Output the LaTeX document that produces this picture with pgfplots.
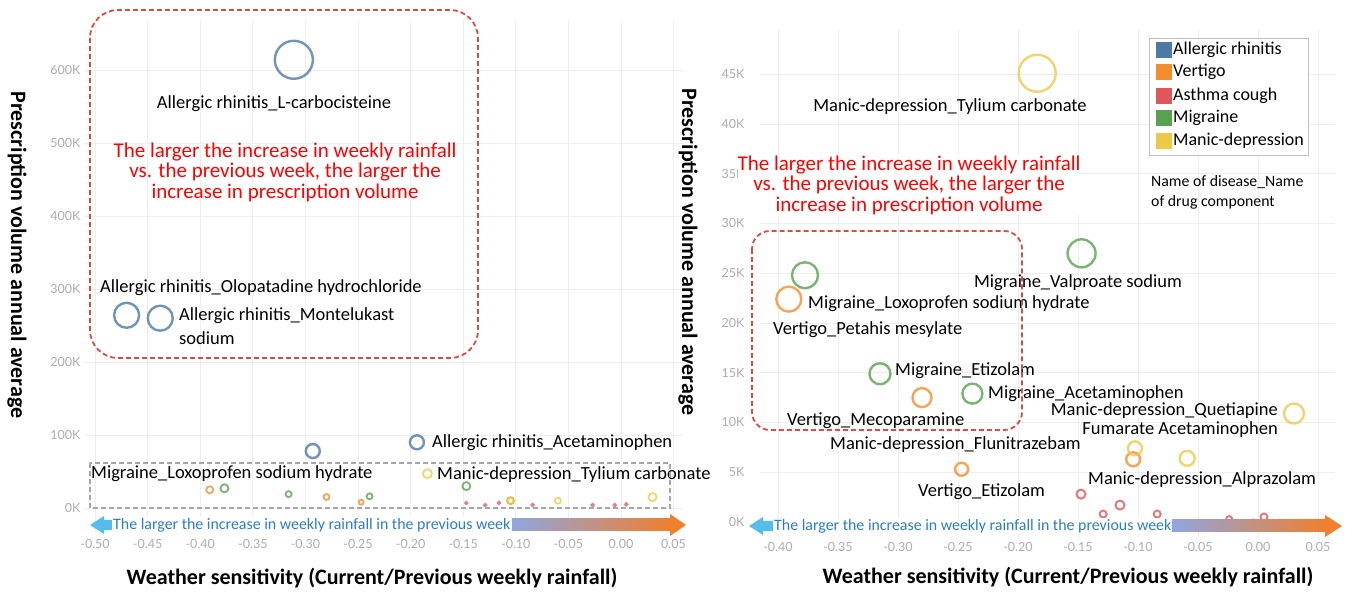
\documentclass[border=0pt]{standalone}
\usepackage{fontspec}
\setmainfont{Carlito}
\newfontfamily\tickfont{Lato}
\usepackage{pgfplots}
\usepackage{pgfplotstable}
\pgfplotsset{compat=1.18}

\definecolor{cAR}{HTML}{4E79A7}
\definecolor{cVE}{HTML}{F28E2B}
\definecolor{cAC}{HTML}{E15759}
\definecolor{cMI}{HTML}{59A14F}
\definecolor{cMD}{HTML}{EDC948}
\definecolor{annRed}{HTML}{FF0000}
\definecolor{boxRed}{HTML}{DE4A3E}
\definecolor{arrBlue}{HTML}{2A7CCF}
\definecolor{arrLight}{HTML}{55BDEB}
\definecolor{gradL}{HTML}{8FA6E0}
\definecolor{gradR}{HTML}{F07F2E}
\definecolor{gridc}{HTML}{EEEEEE}

% ---------------- left chart data ----------------
\pgfplotstableread{
x y r
-0.311 614000 19
-0.470 264000 12.5
-0.438 260000 12.5
-0.293 78000 7
-0.194 90000 7
}\LAR
\pgfplotstableread{
x y r
-0.391 25000 3.5
-0.280 15000 3
-0.247 8000 2.5
-0.105 10000 3.5
}\LVE
\pgfplotstableread{
x y r
-0.147 7000 1.5
-0.129 4000 1.5
-0.116 7000 1.5
-0.084 4000 1.5
-0.027 4000 1.5
-0.006 4000 1.5
0.005 5000 1.5
}\LAC
\pgfplotstableread{
x y r
-0.377 27000 4
-0.316 19000 3
-0.239 16000 3
-0.147 30000 4
}\LMI
\pgfplotstableread{
x y r
-0.184 47000 4.5
-0.105 10000 3
-0.060 10000 3
0.030 15000 4
}\LMD
% ---------------- right chart data ----------------
\pgfplotstableread{
x y r
-0.391 22400 12.5
-0.280 12500 9.5
-0.104 6300 7
-0.247 5300 6.5
}\RVE
\pgfplotstableread{
x y r
-0.1475 2800 4.5
-0.129 800 3.5
-0.115 1700 4.5
-0.084 800 3.5
-0.024 300 3
-0.004 0 2.5
0.005 500 3.5
}\RAC
\pgfplotstableread{
x y r
-0.3775 24800 13
-0.315 14900 10.5
-0.238 12900 10
-0.147 27000 14
}\RMI
\pgfplotstableread{
x y r
-0.184 45100 18.5
-0.1025 7400 7
-0.059 6400 7.5
0.030 10900 10
}\RMD

\pgfplotsset{
  base/.style={scale only axis, clip=false,
    axis line style={draw=none}, major tick length=0pt,
    grid=major, major grid style={draw=gridc, line width=0.9pt},
    scaled x ticks=false, scaled y ticks=false,
    ticklabel style={font=\tickfont\fontsize{12.5}{14}\selectfont, text=gray!65}},
  bub/.style 2 args={scatter, only marks, mark=o,
    scatter/use mapped color={draw=#1, draw opacity=0.8},
    visualization depends on={\thisrow{r}\as\perpointmarksize},
    scatter/@pre marker code/.append style={/tikz/mark size=\perpointmarksize},
    mark options={line width=#2}},
}

\tikzset{
  lbl/.style={font=\fontsize{18.5}{21}\selectfont, inner sep=0pt, text=black},
  leg/.style={font=\fontsize{18}{20}\selectfont, inner sep=0pt, text=black, anchor=west},
  ann/.style={font=\fontsize{21}{20.5}\selectfont, text=annRed, align=center, inner sep=1pt},
  axl/.style={font=\bfseries\fontsize{22}{24}\selectfont, inner sep=0pt},
  btxt/.style={font=\fontsize{15.9}{17}\selectfont, text=arrBlue, inner sep=0pt, anchor=west},
}

\begin{document}
\begin{tikzpicture}[x=1pt,y=1pt]
\path[use as bounding box] (0,0) rectangle (1348,593);

% ================= LEFT AXIS =================
\begin{axis}[base, at={(84pt,61pt)}, anchor=south west, width=600pt, height=512pt,
  xmin=-0.5105, xmax=0.0599, ymin=-32877, ymax=668493,
  xtick={-0.5,-0.45,-0.4,-0.35,-0.3,-0.25,-0.2,-0.15,-0.1,-0.05,0,0.05},
  xticklabels={-0.50,-0.45,-0.40,-0.35,-0.30,-0.25,-0.20,-0.15,-0.10,-0.05,0.00,0.05},
  ytick={0,100000,200000,300000,400000,500000,600000},
  yticklabels={0K,100K,200K,300K,400K,500K,600K},
  xticklabel style={yshift=-4pt}, yticklabel style={xshift=0pt}]
\addplot[bub={cAR}{2.4pt}] table[x=x,y=y]{\LAR};
\addplot[bub={cVE}{1.8pt}] table[x=x,y=y]{\LVE};
\addplot[bub={cAC}{1.4pt}] table[x=x,y=y]{\LAC};
\addplot[bub={cMI}{1.8pt}] table[x=x,y=y]{\LMI};
\addplot[bub={cMD}{1.8pt}] table[x=x,y=y]{\LMD};
\end{axis}

% ================= RIGHT AXIS =================
\begin{axis}[base, at={(760pt,56pt)}, anchor=south west, width=575pt, height=507pt,
  xmin=-0.415, xmax=0.0642, ymin=-1508, ymax=49447,
  xtick={-0.4,-0.35,-0.3,-0.25,-0.2,-0.15,-0.1,-0.05,0,0.05},
  xticklabels={-0.40,-0.35,-0.30,-0.25,-0.20,-0.15,-0.10,-0.05,0.00,0.05},
  ytick={0,5000,10000,15000,20000,25000,30000,35000,40000,45000},
  yticklabels={0K,5K,10K,15K,20K,25K,30K,35K,40K,45K},
  xticklabel style={yshift=-2pt}, yticklabel style={xshift=-12pt}]
\addplot[bub={cVE}{2.4pt}] table[x=x,y=y]{\RVE};
\addplot[bub={cAC}{2pt}] table[x=x,y=y]{\RAC};
\addplot[bub={cMI}{2.4pt}] table[x=x,y=y]{\RMI};
\addplot[bub={cMD}{2.4pt}] table[x=x,y=y]{\RMD};
\end{axis}

% ---------- left labels ----------
\node[lbl] at (274,489) {Allergic rhinitis\_L-carbocisteine};
\node[lbl] at (261,305) {Allergic rhinitis\_Olopatadine hydrochloride};
\node[lbl,anchor=west] at (179,277) {Allergic rhinitis\_Montelukast};
\node[lbl,anchor=west] at (179,255) {sodium};
\node[lbl,anchor=west] at (432,150) {Allergic rhinitis\_Acetaminophen};
\node[lbl,anchor=west] at (91,119) {Migraine\_Loxoprofen sodium hydrate};
\node[lbl,anchor=west] at (437,118) {Manic-depression\_Tylium carbonate};
\node[ann] at (285,421) {The larger the increase in weekly rainfall\\vs. the previous week, the larger the\\increase in prescription volume};

% ---------- right labels ----------
\node[lbl] at (950,486) {Manic-depression\_Tylium carbonate};
\node[lbl] at (1078,310) {Migraine\_Valproate sodium};
\node[lbl,anchor=west] at (808,289) {Migraine\_Loxoprofen sodium hydrate};
\node[lbl,anchor=west] at (773,263) {Vertigo\_Petahis mesylate};
\node[lbl,anchor=west] at (895,222) {Migraine\_Etizolam};
\node[lbl,anchor=west] at (988,199) {Migraine\_Acetaminophen};
\node[lbl,anchor=west] at (787,172) {Vertigo\_Mecoparamine};
\node[lbl,anchor=west] at (830,148) {Manic-depression\_Flunitrazebam};
\node[lbl,anchor=east] at (1278,182) {Manic-depression\_Quetiapine};
\node[lbl,anchor=east] at (1278,163) {Fumarate Acetaminophen};
\node[lbl,anchor=west] at (918,101) {Vertigo\_Etizolam};
\node[lbl,anchor=west] at (1088,113) {Manic-depression\_Alprazolam};
\node[ann, fill=white, inner xsep=0pt] at (909,408) {The larger the increase in weekly rainfall\\vs. the previous week, the larger the\\increase in prescription volume};

% ---------- boxes ----------
\draw[boxRed, line width=1.8pt, dash pattern=on 5pt off 3pt, rounded corners=28pt] (90,583) rectangle (478,235);
\draw[boxRed, line width=1.8pt, dash pattern=on 5pt off 3pt, rounded corners=18pt] (752,362) rectangle (1022,163);
\draw[gray!70, line width=1.6pt, dash pattern=on 5pt off 3pt] (90,130) rectangle (670,85);

% ---------- arrows ----------
\fill[arrLight] (90,68) -- (104,77) -- (104,73) -- (113,73) -- (113,63) -- (104,63) -- (104,59) -- cycle;
\node[btxt, fill=white, inner sep=1pt] at (112,68) {The larger the increase in weekly rainfall in the previous week};
\shade[left color=gradL, right color=gradR] (512,62) rectangle (671,74);
\fill[gradR] (670,79) -- (686,68) -- (670,57) -- cycle;

\fill[arrLight] (749,67) -- (763,76) -- (763,72) -- (775,72) -- (775,62) -- (763,62) -- (763,58) -- cycle;
\node[btxt, fill=white, inner sep=1pt] at (773,67) {The larger the increase in weekly rainfall in the previous week};
\shade[left color=gradL, right color=gradR] (1172,61) rectangle (1326,73);
\fill[gradR] (1325,78) -- (1342,67) -- (1325,56) -- cycle;

% ---------- axis titles ----------
\node[axl, rotate=-90] at (17,338) {Prescription volume annual average};
\node[axl, rotate=-90] at (688,341) {Prescription volume annual average};
\node[axl] at (372,15) {Weather sensitivity (Current/Previous weekly rainfall)};
\node[axl] at (1068,16) {Weather sensitivity (Current/Previous weekly rainfall)};

% ---------- legend ----------
\draw[gray!50, line width=1pt, fill=white] (1149,554) rectangle (1308,437);
\fill[cAR] (1156,535) rectangle (1172,551);
\fill[cVE] (1156,513) rectangle (1172,529);
\fill[cAC] (1156,489) rectangle (1172,505);
\fill[cMI] (1156,467) rectangle (1172,483);
\fill[cMD] (1156,444) rectangle (1172,460);
\node[leg] at (1173,543) {Allergic rhinitis};
\node[leg] at (1173,521) {Vertigo};
\node[leg] at (1173,497) {Asthma cough};
\node[leg] at (1173,475) {Migraine};
\node[leg] at (1173,452) {Manic-depression};
\node[font=\fontsize{15.8}{17}\selectfont, inner sep=0pt, anchor=west] at (1151,411) {Name of disease\_Name};
\node[font=\fontsize{15.8}{17}\selectfont, inner sep=0pt, anchor=west] at (1151,391) {of drug component};
\end{tikzpicture}
\end{document}
